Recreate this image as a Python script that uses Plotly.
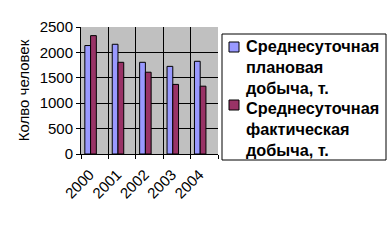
import plotly.graph_objects as go

years = ["2000", "2001", "2002", "2003", "2004"]
planned = [2135, 2160, 1805, 1725, 1825]
actual = [2330, 1805, 1610, 1370, 1335]
label_planned = ["Среднесуточная", "плановая", "добыча, т."]
label_actual = ["Среднесуточная", "фактическая", "добыча, т."]
colors = ["#9999FF", "#993366"]

fig = go.Figure()
fig.add_trace(go.Bar(x=years, y=planned, name=" ".join(label_planned),
                     marker=dict(color=colors[0], line=dict(color="black", width=1)),
                     width=0.21, offset=-0.36, showlegend=False))
fig.add_trace(go.Bar(x=years, y=actual, name=" ".join(label_actual),
                     marker=dict(color=colors[1], line=dict(color="black", width=1)),
                     width=0.21, offset=-0.15, showlegend=False))

font = "Liberation Sans, Arial, sans-serif"
W, H = 391, 248
margin_l, margin_r, margin_t, margin_b = 81, 173, 27, 94
pw = W - margin_l - margin_r
ph = H - margin_t - margin_b

def cx(x):
    return (x - margin_l) / pw

def cy(y):
    return (H - margin_b - y) / ph

shapes = [dict(type="rect", xref="paper", yref="paper",
               x0=cx(222), x1=cx(386), y0=cy(160), y1=cy(34),
               line=dict(color="black", width=1), fillcolor="white")]
annotations = []
legend_items = [(label_planned, colors[0], 42, 67), (label_actual, colors[1], 100, 128.5)]
for lines, col, ytop, ymid in legend_items:
    shapes.append(dict(type="rect", xref="paper", yref="paper",
                       x0=cx(229), x1=cx(239), y0=cy(ytop + 10), y1=cy(ytop),
                       line=dict(color="black", width=1), fillcolor=col))
    annotations.append(dict(text="<br>".join(lines), xref="paper", yref="paper",
                            x=cx(245), y=cy(ymid), align="left",
                            xanchor="left", yanchor="middle", showarrow=False,
                            borderpad=0,
                            font=dict(family=font, size=16.3, color="black", weight="bold")))

fig.update_layout(
    width=W, height=H,
    margin=dict(l=margin_l, r=margin_r, t=margin_t, b=margin_b),
    paper_bgcolor="white", plot_bgcolor="#C0C0C0",
    font=dict(family=font, size=15, color="black"),
    shapes=shapes, annotations=annotations,
    xaxis=dict(type="category", tickson="boundaries", showgrid=True, gridcolor="black",
               gridwidth=1, ticks="outside", ticklen=4, tickcolor="black",
               tickangle=-45, showline=True, linecolor="black",
               ticklabelstandoff=5, ticklabelshift=-5,
               tickfont=dict(family=font, size=15), range=[-0.5, 4.5]),
    yaxis=dict(range=[0, 2500], dtick=500, showgrid=True, gridcolor="black", gridwidth=1,
               ticks="outside", ticklen=4, tickcolor="black", showline=True,
               linecolor="black", zeroline=False,
               title=dict(text="Колво человек", font=dict(family=font, size=15), standoff=6),
               tickfont=dict(family=font, size=15)),
)
fig.write_html("out.html")
